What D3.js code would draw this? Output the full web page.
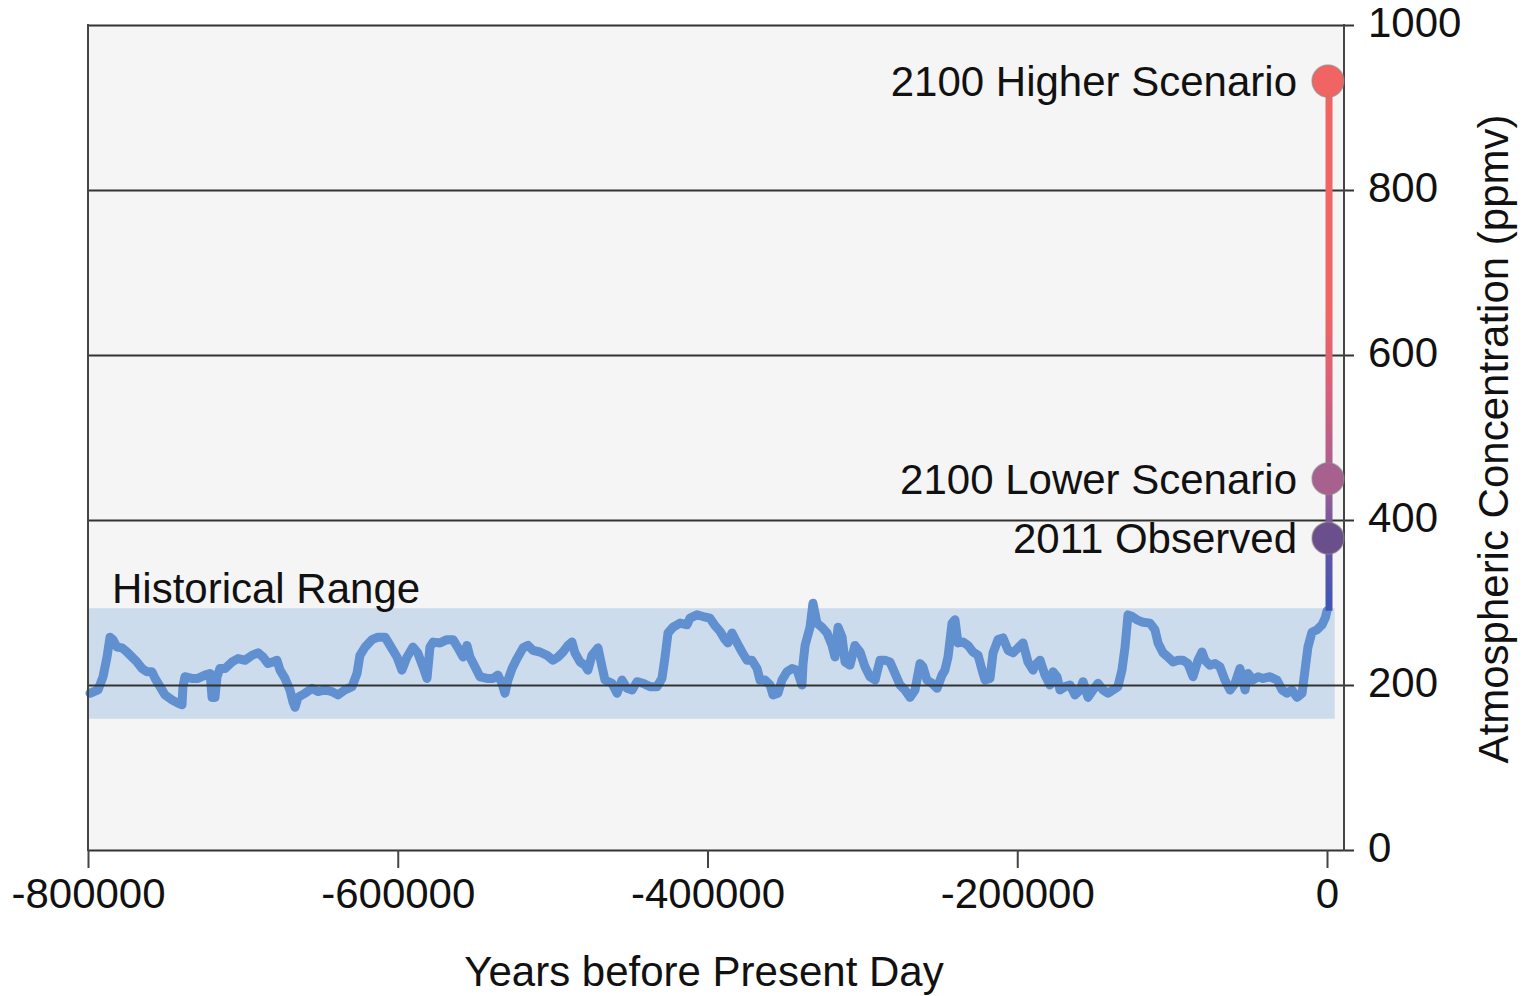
<!DOCTYPE html>
<html><head><meta charset="utf-8">
<script src="https://cdn.jsdelivr.net/npm/d3@7"></script>
<style>
html,body{margin:0;padding:0;background:#fff;}
svg{display:block;}
text{font-family:"Liberation Sans",Arial,sans-serif;fill:#111;}
</style>
</head><body>
<svg id="chart" width="1522" height="996"></svg>
<script>
// ---- data ----
const yearK = [-798.7,-793.5,-790.3,-787.7,-785.8,-783.9,-781.3,-778.0,-774.8,-771.6,-768.4,-765.1,-761.9,-758.7,-756.7,-753.5,-750.3,-745.8,-741.9,-739.3,-738.7,-737.4,-732.9,-729.0,-724.5,-721.2,-719.9,-718.0,-716.7,-714.8,-711.5,-707.0,-703.1,-698.6,-694.1,-690.2,-687.0,-683.8,-680.5,-678.0,-676.0,-672.8,-669.6,-667.6,-666.3,-664.4,-659.9,-655.4,-651.5,-647.0,-642.5,-638.6,-634.1,-629.5,-626.3,-624.4,-621.1,-616.6,-612.8,-608.2,-605.0,-600.5,-597.3,-594.0,-590.2,-587.1,-583.7,-581.1,-579.2,-577.2,-572.7,-568.2,-564.3,-561.1,-557.9,-555.3,-553.4,-550.1,-546.9,-542.4,-538.5,-535.3,-532.7,-530.8,-528.8,-526.2,-523.0,-519.1,-515.9,-512.7,-508.2,-503.6,-499.8,-496.5,-493.3,-490.1,-487.5,-485.6,-482.3,-479.1,-477.2,-474.6,-470.7,-468.1,-466.2,-461.7,-458.4,-455.2,-452.0,-448.7,-445.5,-441.6,-437.1,-432.6,-429.4,-427.4,-425.5,-422.3,-417.7,-413.2,-411.3,-406.8,-402.9,-398.4,-395.2,-391.9,-388.7,-386.8,-384.2,-380.9,-377.7,-374.5,-371.3,-368.0,-366.1,-362.9,-359.6,-357.7,-354.5,-351.9,-348.7,-345.4,-342.2,-339.0,-338.3,-337.0,-333.8,-331.9,-329.3,-326.1,-322.8,-319.6,-317.7,-315.7,-313.1,-311.2,-308.0,-304.8,-301.5,-298.3,-295.1,-291.8,-288.6,-285.4,-282.2,-278.9,-275.7,-272.5,-269.2,-266.0,-262.8,-260.9,-258.3,-255.0,-251.8,-248.6,-246.7,-244.7,-242.1,-240.2,-238.3,-235.0,-231.8,-228.6,-225.3,-222.7,-220.8,-217.6,-215.6,-212.4,-209.2,-205.9,-202.7,-199.5,-196.3,-193.1,-189.8,-188.5,-185.3,-182.1,-178.9,-176.9,-174.3,-172.4,-169.2,-165.9,-162.7,-159.5,-157.5,-154.3,-151.1,-147.9,-144.6,-141.4,-138.2,-135.0,-132.4,-130.4,-128.5,-125.9,-122.7,-118.8,-114.3,-111.1,-109.1,-105.9,-102.7,-99.4,-96.2,-93.0,-89.8,-86.5,-83.3,-80.7,-78.8,-75.6,-72.3,-69.1,-65.9,-62.6,-59.4,-56.2,-52.9,-51.0,-47.8,-44.5,-41.3,-36.8,-32.3,-29.0,-25.8,-22.6,-19.4,-16.1,-14.2,-12.3,-9.7,-6.5,-3.2,-1.0,0];
const co2 = [190,194,210,234,258,255,246,245,240,234,228,220,216,216,208,198,188,182,178,176,198,210,208,208,212,214,185,185,210,220,220,228,232,230,236,239,234,226,228,230,218,208,194,179,173,185,190,196,192,194,192,188,194,198,214,236,246,255,258,258,248,234,218,234,246,239,222,208,246,252,251,255,255,245,234,248,234,222,210,208,208,212,202,190,206,220,232,245,248,242,240,236,230,234,240,248,252,239,228,224,218,236,245,222,206,202,190,206,196,194,204,202,198,198,208,234,263,270,275,273,281,285,283,281,272,265,255,251,263,251,240,230,230,220,206,206,200,188,190,206,216,220,218,200,226,248,270,299,275,270,263,248,234,270,258,228,224,248,240,222,210,206,230,230,228,214,200,194,185,194,226,222,206,202,196,212,218,234,275,279,251,252,248,240,236,218,206,208,239,255,257,242,239,245,251,228,218,224,230,212,200,216,210,194,198,200,188,194,204,185,194,202,194,190,194,198,218,246,285,283,279,276,275,267,251,239,234,228,230,230,226,210,230,240,230,224,226,222,206,194,202,220,194,214,206,210,208,210,206,194,190,194,185,190,218,246,264,267,273,282,290];
const xTicks = [-800000,-600000,-400000,-200000,0];
const yTicks = [0,200,400,600,800,1000];
const histRange = [159, 293];          // ppmv band
const histYears = [-800000, 5000];     // band extent
const riseStart = 290;                 // ppmv at present day
const scenarioLabels = ["2100 Higher Scenario","2100 Lower Scenario","2011 Observed"];
const scenarioValues = [932, 450, 378];
const scenarioColors = ["#f06464","#a8608f","#6b4f8c"];

// ---- layout ----
const svg = d3.select("#chart");
const x = d3.scaleLinear().domain([-800000, 0]).range([88, 1327]);
const y = d3.scaleLinear().domain([0, 1000]).range([850, 25]);
const frameL = 88, frameR = 1344, frameT = y(1000), frameB = y(0);
const FS = 42;

// plot background
svg.append("rect").attr("x", frameL).attr("y", frameT)
  .attr("width", frameR - frameL).attr("height", frameB - frameT).attr("fill", "#f5f5f5");

// historical range band
svg.append("rect")
  .attr("x", x(histYears[0])).attr("width", x(histYears[1]) - x(histYears[0]))
  .attr("y", y(histRange[1])).attr("height", y(histRange[0]) - y(histRange[1]))
  .attr("fill", "#cddcec");

// CO2 curve
const pts = yearK.map((k, i) => [k * 1000, co2[i]]);
svg.append("path").datum(pts)
  .attr("d", d3.line().x(d => x(d[0])).y(d => y(d[1])))
  .attr("fill", "none").attr("stroke", "#6090cf").attr("stroke-width", 9)
  .attr("stroke-linejoin", "round").attr("stroke-linecap", "round");

// y axis (gridlines + right-side labels)
const yAxis = svg.append("g").attr("transform", `translate(${frameL},0)`)
  .call(d3.axisRight(y).tickValues(yTicks).tickSize(1354 - frameL).tickPadding(14)
        .tickFormat(d => String(d)));
yAxis.select(".domain").remove();
yAxis.selectAll(".tick line").attr("stroke", "#333").attr("stroke-width", 2);
yAxis.selectAll(".tick text").attr("font-size", FS).attr("dy", "0.27em")
  .attr("fill", "#111").attr("font-family", '"Liberation Sans", Arial, sans-serif');

// x axis
const xAxis = svg.append("g").attr("transform", `translate(0,${frameB})`)
  .call(d3.axisBottom(x).tickValues(xTicks).tickSize(18).tickPadding(10)
        .tickFormat(d => String(d)));
xAxis.select(".domain").remove();
xAxis.selectAll(".tick line").attr("stroke", "#444").attr("stroke-width", 2);
xAxis.selectAll(".tick text").attr("font-size", FS).attr("fill", "#111")
  .attr("font-family", '"Liberation Sans", Arial, sans-serif');

// frame lines (left, right axis line)
svg.append("line").attr("x1", frameL).attr("x2", frameL).attr("y1", frameT - 1).attr("y2", frameB + 1)
  .attr("stroke", "#444").attr("stroke-width", 2);
svg.append("line").attr("x1", frameR).attr("x2", frameR).attr("y1", frameT - 1).attr("y2", frameB + 1)
  .attr("stroke", "#444").attr("stroke-width", 2);

// rising line with gradient
const defs = svg.append("defs");
const grad = defs.append("linearGradient").attr("id", "rise")
  .attr("gradientUnits", "userSpaceOnUse")
  .attr("x1", 0).attr("x2", 0).attr("y1", y(riseStart)).attr("y2", y(scenarioValues[0]));
const stopVals = [300, 380, 450, 560, 650];
const stopCols = ["#4256b6", "#6a56a0", "#a65f92", "#d8607a", "#f06464"];
stopVals.forEach((v, i) => grad.append("stop")
  .attr("offset", (v - riseStart) / (scenarioValues[0] - riseStart))
  .attr("stop-color", stopCols[i]));
svg.append("line")
  .attr("x1", x(0) + 2).attr("x2", x(0) + 2)
  .attr("y1", y(riseStart)).attr("y2", y(scenarioValues[0]))
  .attr("stroke", "url(#rise)").attr("stroke-width", 7);

// scenario markers and labels
scenarioValues.forEach((v, i) => {
  svg.append("circle").attr("cx", x(0) + 1).attr("cy", y(v)).attr("r", 16)
    .attr("fill", scenarioColors[i]).attr("stroke", "#8a8a8a")
    .attr("stroke-opacity", 0.55).attr("stroke-width", 1.5);
  svg.append("text").attr("x", 1297).attr("y", y(v) + 15)
    .attr("text-anchor", "end").attr("font-size", FS).text(scenarioLabels[i]);
});

// Historical range label
svg.append("text").attr("x", 112).attr("y", y(histRange[1]) - 5)
  .attr("font-size", FS).text("Historical Range");

// axis titles
svg.append("text").attr("x", 704).attr("y", 986).attr("text-anchor", "middle")
  .attr("font-size", FS).text("Years before Present Day");
svg.append("text").attr("transform", "translate(1508,439) rotate(-90)")
  .attr("text-anchor", "middle").attr("font-size", FS)
  .text("Atmospheric Concentration (ppmv)");
</script>
</body></html>
